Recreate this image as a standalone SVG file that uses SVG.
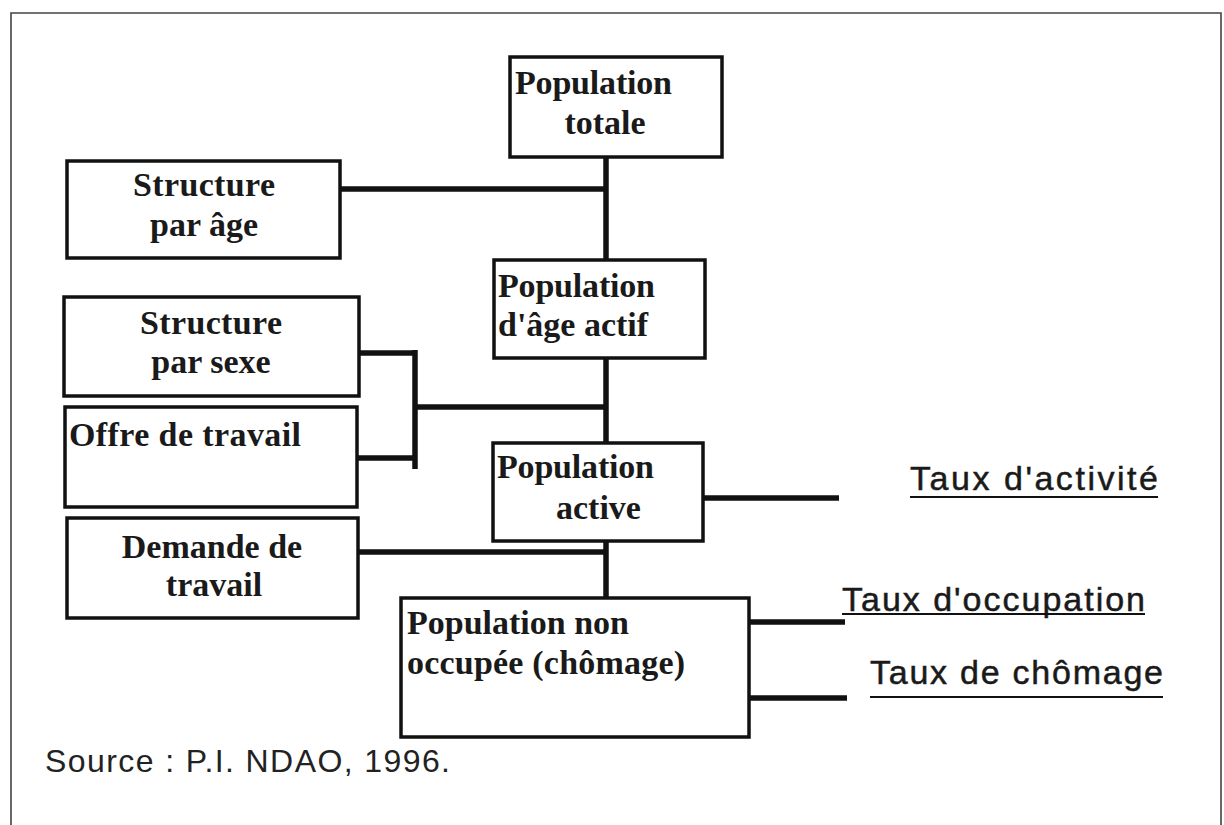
<svg xmlns="http://www.w3.org/2000/svg" width="1224" height="825" viewBox="0 0 1224 825">
<style>
.box{fill:#fff;stroke:#111;stroke-width:3.5}
.lbl{font-family:"Liberation Serif","Times New Roman",serif;font-weight:bold;font-size:34px;fill:#1a1a1a}
.c{text-anchor:middle}
.con{fill:none;stroke:#111;stroke-width:5.5;stroke-linecap:butt}
.ul{fill:none;stroke:#111;stroke-width:2}
.rate{font-family:"Liberation Sans",Arial,sans-serif;font-size:34px;fill:#1a1a1a;stroke:#1a1a1a;stroke-width:0.5}
.src{font-family:"Liberation Sans",Arial,sans-serif;font-size:32px;fill:#222}
</style>
<rect width="1224" height="825" fill="#fff"/>
<path d="M11,825 V13 H1221 V825" fill="none" stroke="#444" stroke-width="1.6"/>
<g id="connectors">
<path class="con" d="M606,157 V260"/>
<path class="con" d="M340,189 H606"/>
<path class="con" d="M606,358 V443"/>
<path class="con" d="M359,353 H415 M357,458 H415 M415,350 V469 M415,407 H606"/>
<path class="con" d="M606,541 V598"/>
<path class="con" d="M358,552 H606"/>
<path class="con" d="M703,498 H839"/>
<path class="con" d="M749,622 H845"/>
<path class="con" d="M749,698 H847"/>
</g>
<g id="pop-totale">
<rect class="box" x="510" y="57" width="212" height="100"/>
<text class="lbl" x="515" y="94" textLength="157">Population</text>
<text class="lbl c" x="605" y="134">totale</text>
</g>
<g id="structure-age">
<rect class="box" x="67" y="161" width="273" height="97"/>
<text class="lbl c" x="204" y="196" textLength="142">Structure</text>
<text class="lbl c" x="204" y="236">par âge</text>
</g>
<g id="pop-age-actif">
<rect class="box" x="494" y="260" width="211" height="98"/>
<text class="lbl" x="498" y="297" textLength="157">Population</text>
<text class="lbl" x="498" y="336">d'âge actif</text>
</g>
<g id="structure-sexe">
<rect class="box" x="64" y="297" width="295" height="99"/>
<text class="lbl c" x="211" y="334" textLength="142">Structure</text>
<text class="lbl c" x="211" y="373">par sexe</text>
</g>
<g id="offre-travail">
<rect class="box" x="65" y="407" width="292" height="100"/>
<text class="lbl" x="69" y="446" textLength="232">Offre de travail</text>
</g>
<g id="pop-active">
<rect class="box" x="493" y="443" width="210" height="98"/>
<text class="lbl" x="497" y="478" textLength="157">Population</text>
<text class="lbl" x="556" y="519">active</text>
</g>
<g id="demande-travail">
<rect class="box" x="67" y="518" width="291" height="100"/>
<text class="lbl c" x="212" y="558">Demande de</text>
<text class="lbl c" x="214" y="596">travail</text>
</g>
<g id="pop-non-occupee">
<rect class="box" x="401" y="598" width="348" height="139"/>
<text class="lbl" x="407" y="634" textLength="222">Population non</text>
<text class="lbl" x="407" y="674" textLength="278">occupée (chômage)</text>
</g>
<g id="taux-activite">
<text class="rate" x="910" y="490" textLength="248">Taux d'activité</text>
<path class="ul" d="M910,497 H1158"/>
</g>
<g id="taux-occupation">
<text class="rate" x="842" y="611" textLength="303">Taux d'occupation</text>
<path class="ul" d="M842,614 H1145"/>
</g>
<g id="taux-chomage">
<text class="rate" x="870" y="684" textLength="293">Taux de chômage</text>
<path class="ul" d="M870,697 H1163"/>
</g>
<text class="src" x="45" y="772" textLength="405">Source : P.I. NDAO, 1996.</text>
</svg>
